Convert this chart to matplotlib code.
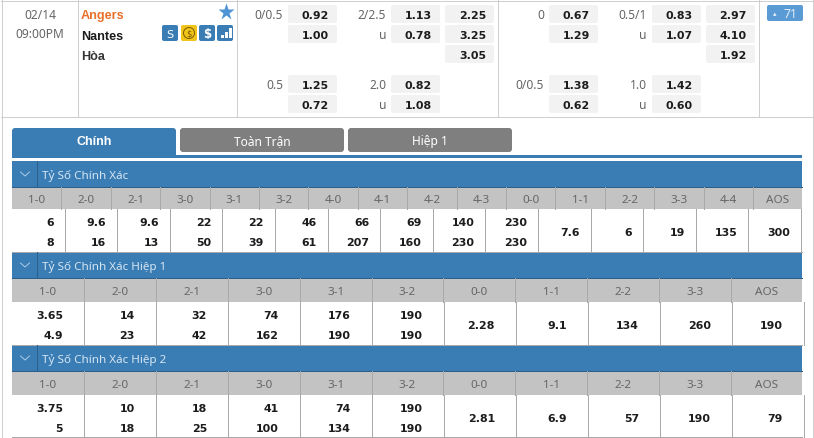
#! /usr/bin/env python
# Odds table page for Angers v Nantes, redrawn in pixel coordinates.

import matplotlib
matplotlib.use('Agg')
import matplotlib.pyplot as plt
from matplotlib.patches import Rectangle, FancyBboxPatch, Circle

W, H = 814, 439
LW = 0.72  # one pixel at dpi 100

blue = '#3a7cb4'
dark_line = '#2b5f8a'
head_gray = '#c3c3c3'
sep_gray = '#a9a9a9'
border = '#cfcfcf'
chip_gray = '#f2f2f2'
text_gray = '#666666'
text_dark = '#1c1c1c'

date_lines = ['02/14', '09:00PM']
teams = ['Angers', 'Nantes', 'Hòa']
tabs = ['Chính', 'Toàn Trận', 'Hiệp 1']
section_titles = ['Tỷ Số Chính Xác', 'Tỷ Số Chính Xác Hiệp 1', 'Tỷ Số Chính Xác Hiệp 2']

# (label, right edge, row)
odds_labels = [('0/0.5', 283, 0), ('2/2.5', 386, 0), ('u', 386, 1),
               ('0.5', 283, 3), ('2.0', 386, 3), ('u', 386, 4),
               ('0', 544, 0), ('0.5/1', 647, 0), ('u', 647, 1),
               ('0/0.5', 544, 3), ('1.0', 647, 3), ('u', 647, 4)]
# (value, chip left edge, row)
odds_values = [('0.92', 288, 0), ('1.00', 288, 1), ('1.25', 288, 3), ('0.72', 288, 4),
               ('1.13', 391, 0), ('0.78', 391, 1), ('0.82', 391, 3), ('1.08', 391, 4),
               ('2.25', 445, 0), ('3.25', 445, 1), ('3.05', 445, 2),
               ('0.67', 549, 0), ('1.29', 549, 1), ('1.38', 549, 3), ('0.62', 549, 4),
               ('0.83', 652, 0), ('1.07', 652, 1), ('1.42', 652, 3), ('0.60', 652, 4),
               ('2.97', 706, 0), ('4.10', 706, 1), ('1.92', 706, 2)]
row_tops = [6, 26, 46, 76, 96]

scores_full = ['1-0', '2-0', '2-1', '3-0', '3-1', '3-2', '4-0', '4-1', '4-2', '4-3',
               '0-0', '1-1', '2-2', '3-3', '4-4', 'AOS']
full_home = ['6', '9.6', '9.6', '22', '22', '46', '66', '69', '140', '230',
             '7.6', '6', '19', '135', '300']
full_away = ['8', '16', '13', '50', '39', '61', '207', '160', '230', '230']

scores_half = ['1-0', '2-0', '2-1', '3-0', '3-1', '3-2', '0-0', '1-1', '2-2', '3-3', 'AOS']
h1_home = ['3.65', '14', '32', '74', '176', '190', '2.28', '9.1', '134', '260', '190']
h1_away = ['4.9', '23', '42', '162', '190', '190']
h2_home = ['3.75', '10', '18', '41', '74', '190', '2.81', '6.9', '57', '190', '79']
h2_away = ['5', '18', '25', '100', '134', '190']


def rect(ax, x0, y0, x1, y1, color, z=1):
    ax.add_patch(Rectangle((x0, y0), x1 - x0, y1 - y0, facecolor=color,
                           edgecolor='none', zorder=z))


def rounded(ax, x0, y0, x1, y1, color, r=2, z=2):
    ax.add_patch(FancyBboxPatch((x0 + r, y0 + r), x1 - x0 - 2 * r, y1 - y0 - 2 * r,
                                boxstyle='round,pad=%d,rounding_size=%d' % (r, r),
                                facecolor=color, edgecolor='none', zorder=z))


def grey_text(ax, x, y, s, ha='center', size=8.4, color=text_gray):
    ax.text(x, y + 1.8, s, ha=ha, va='center', fontsize=size, color=color,
            family='Noto Sans', zorder=5)


def bold_num(ax, x, y, s, ha='right', color=text_dark):
    ax.text(x, y + 1.8, s, ha=ha, va='center', fontsize=7.9, color=color,
            family='DejaVu Sans', fontweight='bold', zorder=5)


def section(ax, title, top, gray_bottom, data_bottom, scores, home, away,
            head_w, cell_w, pad):
    head_bottom = top + 26
    rect(ax, 12, top, 802, head_bottom, blue)
    ax.plot([12, 802], [head_bottom, head_bottom], color=dark_line, lw=LW, zorder=3)
    ax.plot([36.5, 36.5], [top, head_bottom], color=dark_line, lw=LW, zorder=3)
    ax.plot([20.5, 25, 29.5], [top + 11, top + 15, top + 11], color='#a9cbe6', lw=LW, zorder=4)
    grey_text(ax, 42, top + 12.5, title, ha='left', size=8.4, color='#d5e6f3')

    rect(ax, 12, head_bottom, 802, gray_bottom, head_gray)
    for i, s in enumerate(scores):
        left = 12 + head_w * i
        if i > 0:
            ax.plot([left, left], [head_bottom, gray_bottom], color=sep_gray, lw=LW, zorder=3)
        grey_text(ax, left + head_w / 2, (head_bottom + gray_bottom) / 2, s)

    ax.plot([12, 802], [data_bottom, data_bottom], color=sep_gray, lw=LW, zorder=3)
    mid = (gray_bottom + data_bottom) / 2
    for i, s in enumerate(home):
        right = 12 + cell_w * (i + 1)
        ax.plot([right, right], [gray_bottom, data_bottom], color=sep_gray, lw=LW, zorder=3)
        if i < len(away):
            bold_num(ax, right - pad, mid - 10, s)
            bold_num(ax, right - pad, mid + 10, away[i])
        else:
            bold_num(ax, right - pad, mid, s)


fig = plt.figure(figsize=(W / 100, H / 100), dpi=100)
ax = fig.add_axes([0, 0, 1, 1])
ax.set_xlim(0, W)
ax.set_ylim(H, 0)
ax.axis('off')

# outer frame and match row dividers
ax.plot([1.5, 1.5], [1, H], color=border, lw=LW)
ax.plot([812.5, 812.5], [1, H], color=border, lw=LW)
ax.plot([1, 813], [1.5, 1.5], color=border, lw=LW)
ax.plot([1, 813], [118, 118], color=border, lw=LW)
for x in [77.5, 236.5, 497.5, 758.5]:
    ax.plot([x, x], [1, 118], color=border, lw=LW)

grey_text(ax, 40, 14, date_lines[0], size=8.6)
grey_text(ax, 40, 32.5, date_lines[1], size=8.6)

for name, y, color in zip(teams, [16.5, 36.5, 57.5], ['#e8702a', text_dark, '#333333']):
    ax.text(81, y, name, ha='left', va='center', fontsize=9.1, fontweight='bold',
            color=color, family='Liberation Sans')

ax.plot([225.5], [13], marker='*', ms=12.5, color='#4f94d4', mec='none')
for x0, color in zip([162, 181, 199, 217], [blue, '#f0c419', blue, blue]):
    rounded(ax, x0, 26, x0 + 16, 42, color, r=2)
ax.text(170, 34.5, 'S', ha='center', va='center', fontsize=8, color='white', zorder=5)
ax.add_patch(Circle((189, 34), 5.5, facecolor='none', edgecolor='#7a5c00', lw=LW, zorder=4))
ax.text(189, 34.5, '$', ha='center', va='center', fontsize=6, color='#7a5c00', zorder=5)
ax.text(207, 34.5, '$', ha='center', va='center', fontsize=8.5, color='white',
        fontweight='bold', zorder=5)
for dx, top in zip([221, 225, 229], [36, 33, 29]):
    rect(ax, dx, top, dx + 2.5, 39, 'white', z=5)

for label, right, row in odds_labels:
    grey_text(ax, right, row_tops[row] + 8, label, ha='right', size=8.6)
for value, left, row in odds_values:
    rounded(ax, left, row_tops[row], left + 49, row_tops[row] + 18, chip_gray, r=2)
    bold_num(ax, left + 41, row_tops[row] + 8, value)

rounded(ax, 767, 6, 803, 22, '#5b9bd5', r=2)
ax.text(775, 14.5, '▴', ha='center', va='center', fontsize=5, color='#e4effa',
        family='DejaVu Sans', zorder=5)
ax.text(790, 14, '71', ha='center', va='center', fontsize=8.8, color='#e4effa',
        family='Noto Sans', zorder=5)

# tabs
rounded(ax, 12, 129, 176, 160, blue, r=3)
rect(ax, 12, 156, 802, 159, blue, z=3)
rect(ax, 12, 159, 802, 162, 'white', z=3)
ax.text(94, 142.5, tabs[0], ha='center', va='center', fontsize=9, fontweight='bold',
        color='white', family='Liberation Sans', zorder=5)
for x0, name in zip([180, 348], tabs[1:]):
    rounded(ax, x0, 129, x0 + 164, 153, '#7f7f7f', r=3)
    grey_text(ax, x0 + 82, 140, name, size=8.6, color='white')

section(ax, section_titles[0], 162, 210, 253, scores_full, full_home, full_away, 49.4, 52.6, 11)
section(ax, section_titles[1], 253, 303, 346, scores_half, h1_home, h1_away, 71.9, 72, 21)
section(ax, section_titles[2], 346, 396, 438, scores_half, h2_home, h2_away, 71.9, 72, 21)

plt.savefig('out.png', dpi=100)
plt.close()
